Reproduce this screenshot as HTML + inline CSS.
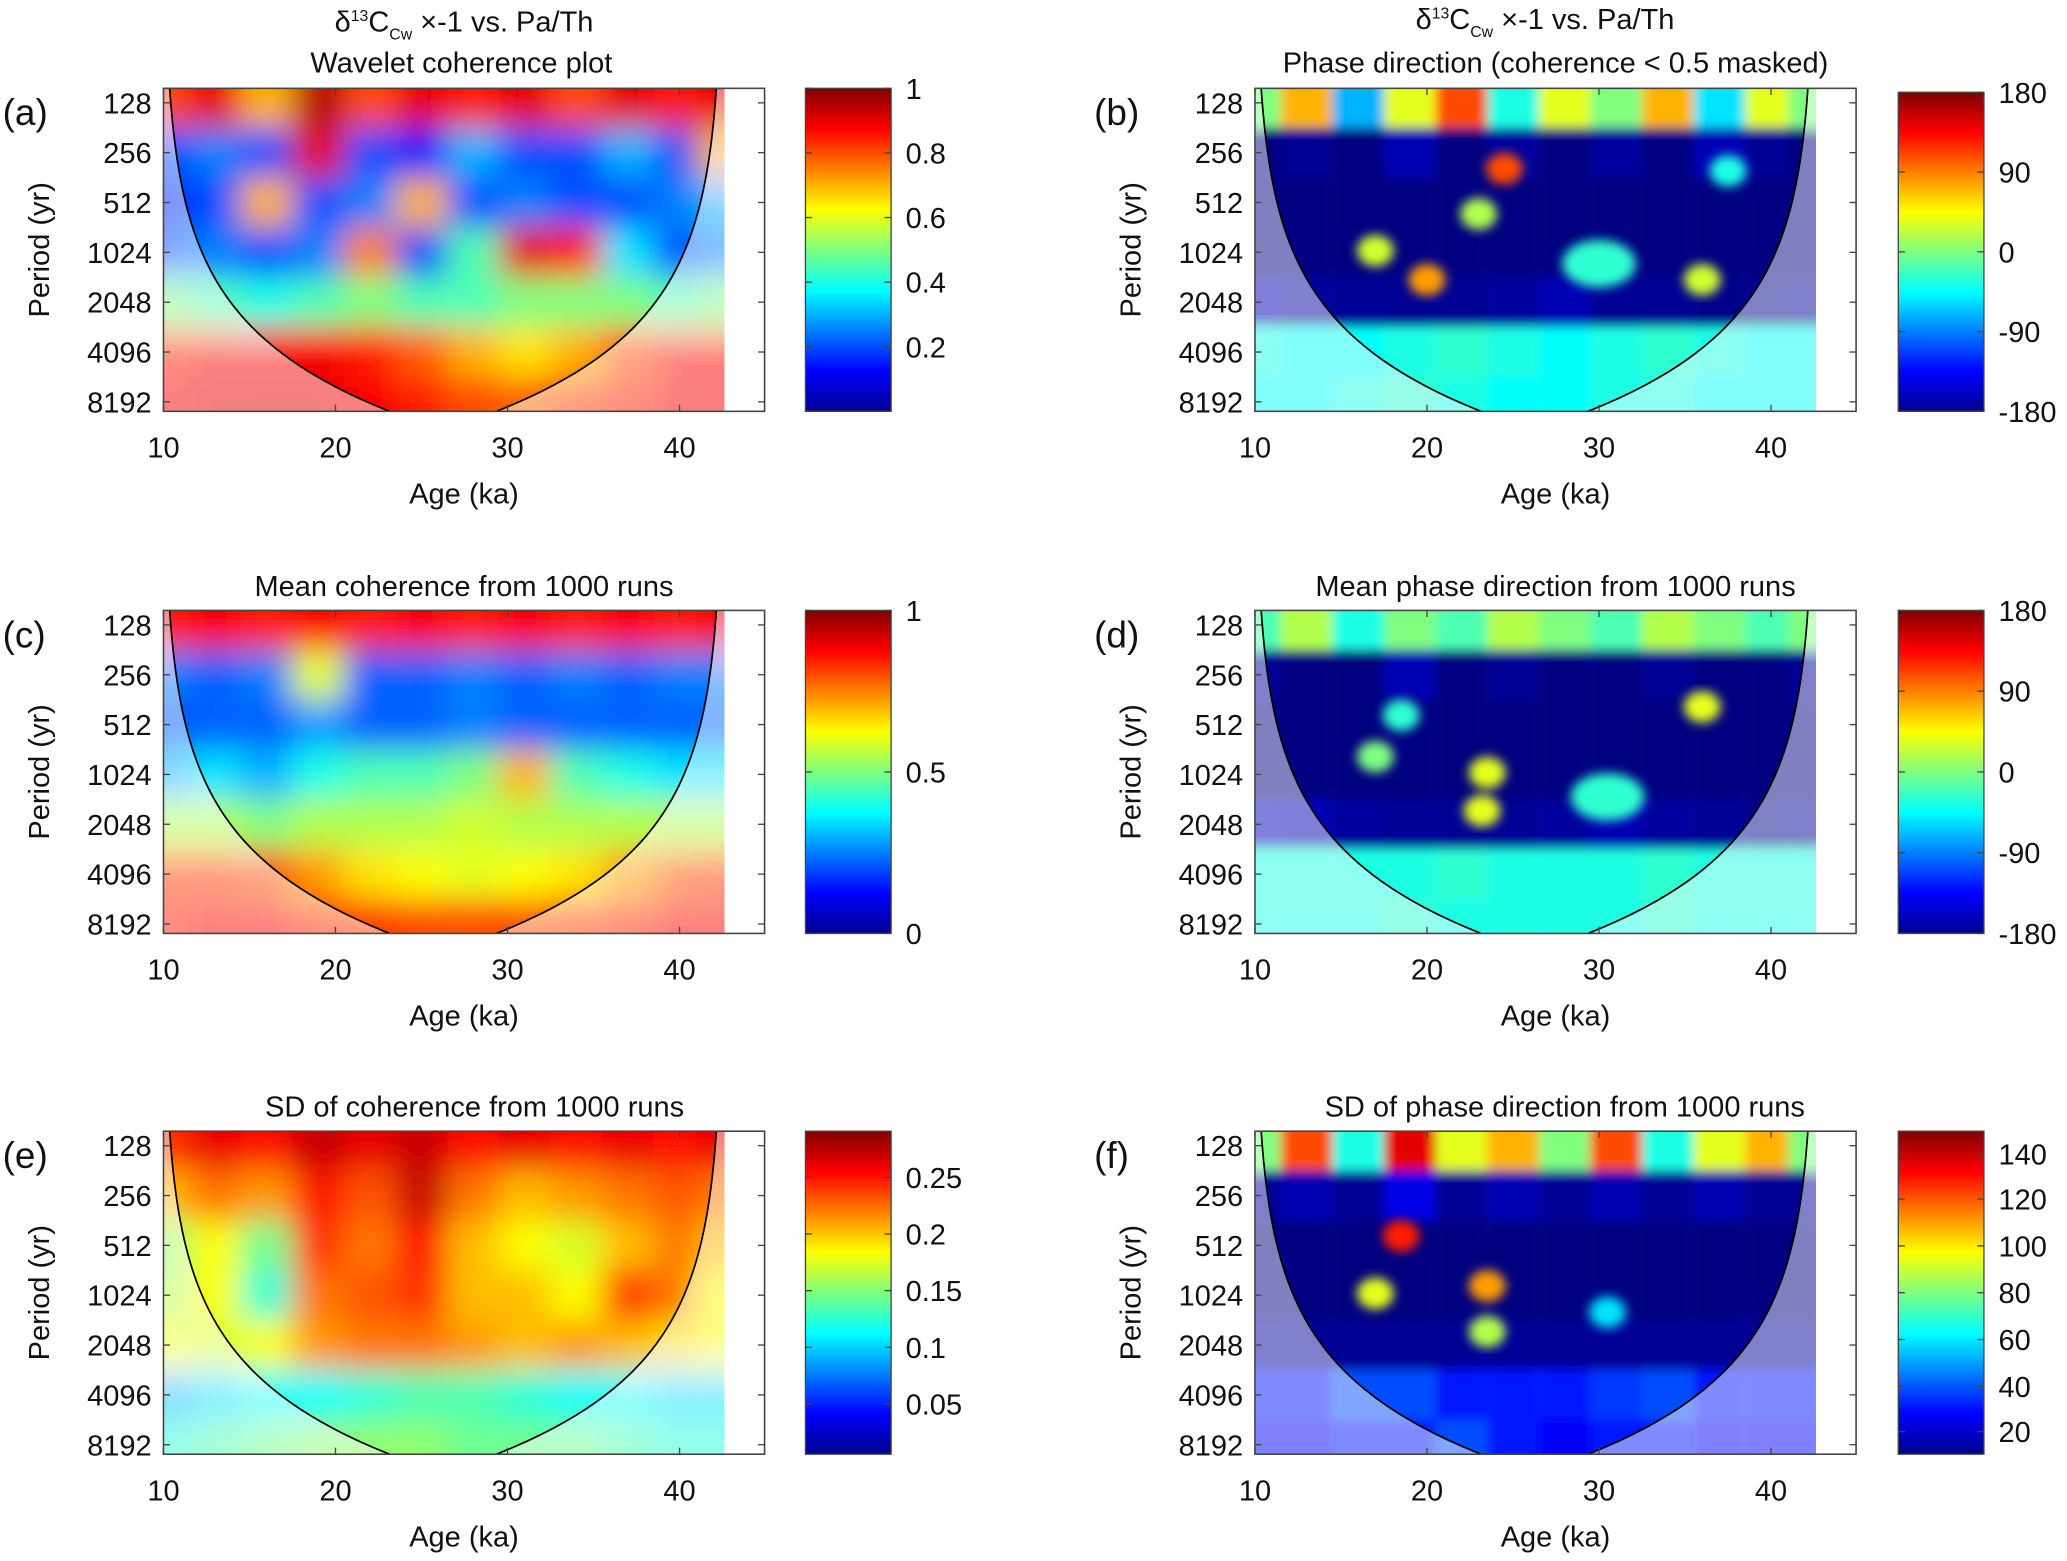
<!DOCTYPE html>
<html><head><meta charset="utf-8"><style>
html,body{margin:0;padding:0;background:#fff;}
svg{display:block;font-family:"Liberation Sans",Arial,sans-serif;}
</style></head><body>
<svg id="fig" width="2067" height="1561" viewBox="0 0 1568 1184" preserveAspectRatio="none" xmlns="http://www.w3.org/2000/svg">
<defs>
<filter id="blurBig" x="-5%" y="-5%" width="110%" height="110%"><feGaussianBlur stdDeviation="12"/></filter>
<filter id="blurSmall" x="-5%" y="-5%" width="110%" height="110%"><feGaussianBlur stdDeviation="4"/></filter>
<linearGradient id="jetGrad" x1="0" y1="1" x2="0" y2="0">
<stop offset="0" stop-color="#00008f"/><stop offset="0.125" stop-color="#0000ff"/><stop offset="0.375" stop-color="#00ffff"/><stop offset="0.625" stop-color="#ffff00"/><stop offset="0.875" stop-color="#ff0000"/><stop offset="1" stop-color="#800000"/>
</linearGradient>
</defs>
</svg>
<script>
// ---- data ----
const ages = [10.5,13,16,19,22,25,28,31,34,37,40,42.5];
const periods = [128,256,512,1024,2048,4096,8192];
const coherA = [
 [0.8,0.9,0.7,0.95,0.8,0.9,0.85,0.9,0.8,0.9,0.85,0.9],
 [0.2,0.25,0.2,0.9,0.2,0.15,0.3,0.2,0.2,0.3,0.2,0.7],
 [0.15,0.2,0.7,0.2,0.25,0.7,0.2,0.25,0.2,0.2,0.25,0.3],
 [0.2,0.25,0.2,0.25,0.75,0.2,0.45,0.9,0.85,0.35,0.2,0.25],
 [0.5,0.45,0.4,0.45,0.5,0.45,0.45,0.5,0.5,0.5,0.45,0.5],
 [0.85,0.88,0.88,0.88,0.85,0.78,0.7,0.65,0.7,0.8,0.88,0.88],
 [0.88,0.9,0.9,0.9,0.88,0.85,0.8,0.78,0.82,0.85,0.88,0.88]];
const coherC = [
 [0.85,0.88,0.85,0.88,0.85,0.88,0.85,0.88,0.85,0.88,0.85,0.88],
 [0.25,0.22,0.25,0.6,0.22,0.22,0.25,0.22,0.25,0.22,0.25,0.25],
 [0.2,0.22,0.22,0.28,0.22,0.22,0.25,0.22,0.22,0.22,0.22,0.22],
 [0.3,0.35,0.3,0.4,0.45,0.45,0.5,0.7,0.45,0.4,0.35,0.35],
 [0.55,0.55,0.5,0.55,0.55,0.55,0.58,0.55,0.55,0.55,0.55,0.55],
 [0.82,0.82,0.8,0.72,0.65,0.62,0.6,0.62,0.65,0.72,0.8,0.82],
 [0.85,0.88,0.88,0.85,0.82,0.8,0.8,0.8,0.82,0.85,0.88,0.88]];
const sdE = [
 [0.24,0.26,0.25,0.27,0.26,0.27,0.25,0.26,0.25,0.26,0.25,0.26],
 [0.2,0.22,0.21,0.25,0.23,0.27,0.22,0.2,0.21,0.22,0.23,0.22],
 [0.15,0.18,0.14,0.24,0.22,0.25,0.2,0.18,0.17,0.2,0.22,0.2],
 [0.16,0.18,0.12,0.22,0.23,0.24,0.2,0.2,0.18,0.24,0.22,0.18],
 [0.18,0.17,0.18,0.21,0.22,0.22,0.21,0.2,0.21,0.2,0.19,0.18],
 [0.09,0.1,0.11,0.11,0.12,0.13,0.13,0.12,0.11,0.11,0.1,0.1],
 [0.12,0.13,0.14,0.15,0.15,0.15,0.14,0.14,0.14,0.13,0.12,0.12]];
const phaseB = [
 [0.5,0.7,0.3,0.6,0.8,0.4,0.6,0.5,0.7,0.35,0.6,0.5],
 [0,0.02,0,0.05,0,0.03,0,0.03,0,0.05,0.02,0],
 [0,0,0,0,0,0,0,0,0,0,0,0],
 [0,0,0,0,0,0,0,0,0,0,0,0],
 [0.05,0.03,0.02,0.02,0.02,0.03,0.05,0.02,0.02,0.01,0.01,0.02],
 [0.4,0.38,0.38,0.4,0.42,0.4,0.38,0.4,0.42,0.4,0.38,0.38],
 [0.38,0.38,0.4,0.42,0.4,0.38,0.38,0.4,0.4,0.38,0.38,0.38]];
const phaseD = [
 [0.45,0.55,0.4,0.5,0.45,0.55,0.5,0.45,0.55,0.5,0.45,0.5],
 [0.02,0,0,0.05,0,0.02,0,0,0.02,0,0,0.02],
 [0,0,0,0,0,0,0,0,0,0,0,0],
 [0,0,0,0,0,0,0,0,0,0,0,0],
 [0.06,0.05,0.03,0.02,0.02,0.02,0.03,0.05,0.03,0.02,0.01,0.02],
 [0.4,0.4,0.4,0.4,0.42,0.4,0.4,0.4,0.42,0.4,0.4,0.4],
 [0.4,0.4,0.4,0.42,0.4,0.4,0.4,0.4,0.42,0.4,0.4,0.4]];
const phaseF = [
 [0.5,0.8,0.4,0.9,0.6,0.7,0.5,0.8,0.4,0.6,0.7,0.5],
 [0.02,0.05,0.02,0.1,0.02,0.05,0.02,0.05,0.02,0.05,0.02,0.02],
 [0,0,0,0,0,0,0,0,0,0,0,0],
 [0,0,0,0,0,0,0,0,0,0,0,0],
 [0.03,0.02,0.02,0.02,0.02,0.02,0.02,0.02,0.02,0.02,0.02,0.02],
 [0.15,0.15,0.2,0.2,0.15,0.15,0.15,0.18,0.2,0.15,0.15,0.15],
 [0.12,0.12,0.15,0.15,0.2,0.15,0.12,0.15,0.15,0.12,0.12,0.12]];
const blobAges = {b:[20,23,30,36,17,24.5,37.5],d:[18.5,23.5,30.5,23.2,17,36],f:[18.5,30.5,23.5,23.5,17]};
const blobPeriods = {b:[1500,600,1200,1500,1000,320,330],d:[450,1000,1400,1700,800,400],f:[450,1300,900,1700,1000]};
const blobVals = {b:[0.72,0.55,0.42,0.58,0.58,0.8,0.4],d:[0.42,0.6,0.42,0.6,0.5,0.6],f:[0.85,0.35,0.72,0.55,0.6]};
const xTicks = [10,20,30,40];
const yTicks = [128,256,512,1024,2048,4096,8192];

// ---- layout ----
const NS = "http://www.w3.org/2000/svg";
const svg = document.getElementById('fig');
const colX = [124,952], rowY = [67,463,858], AW = 456, AH = 245;
function xScale(left, age){ return left + (age-10)*13.05; }
function yScale(top, p){ return top + 11 + Math.log2(p/128)*37.8; }
function jet(v){
  v=Math.max(0,Math.min(1,v));
  function c(x){return Math.round(255*Math.max(0,Math.min(1,x)));}
  const r=c(Math.min(4*v-1.5,-4*v+4.5)), g=c(Math.min(4*v-0.5,-4*v+3.5)), b=c(Math.min(4*v+0.5,-4*v+2.5));
  return `rgb(${r},${g},${b})`;
}
function el(tag, attrs, parent){ const e=document.createElementNS(NS,tag); for(const k in attrs) e.setAttribute(k,attrs[k]); (parent||svg).appendChild(e); return e; }
function text(x,y,s,size,anchor,parent){ const t=el('text',{x:x,y:y,'font-size':size,'text-anchor':anchor||'middle',fill:'#111'},parent); t.textContent=s; return t; }
function coneD(left, top){
  const pts=[]; const N=50; const yBot=top+AH;
  for(let i=0;i<=N;i++){ const y=top+(yBot-top)*i/N; const p=128*Math.pow(2,(y-top-11)/37.8); const d=3.9*Math.pow(p/2048,0.8); pts.push([y,d]); }
  return pts;
}
function panel(id, ci, ri, mat, vmax, blurId, blobKey, overlayOpacity, overlayColor){
  const left=colX[ci], top=rowY[ri];
  const g=el('g',{});
  
  
  const clipId='clip'+id;
  const cp=el('clipPath',{id:clipId},g); el('rect',{x:left,y:top,width:xScale(left,42.6)-left,height:AH},cp);
  const hg=el('g',{'clip-path':`url(#${clipId})`},g);
  const hm=el('g',{filter:`url(#${blurId})`},hg);
  
  
  for(let r=0;r<periods.length;r++){
    for(let c=0;c<ages.length;c++){
      let x0=xScale(left,ages[c]-1.5), x1=xScale(left,ages[c]+1.5);
      if(c===0) x0-=40; if(c===ages.length-1) x1+=40;
      let y0=yScale(top,periods[r])-19, y1=yScale(top,periods[r])+19;
      if(r===0) y0-=40; if(r===periods.length-1) y1+=40;
      const cell=el('rect',{x:x0,y:y0,width:x1-x0,height:y1-y0,fill:jet(mat[r][c]/vmax)},hm);
      
      
    }
  }
  if(blobKey){
    const bg=el('g',{filter:'url(#blurSmall)'},hg);
    for(let i=0;i<blobAges[blobKey].length;i++){
      const b=el('ellipse',{cx:xScale(left,blobAges[blobKey][i]),cy:yScale(top,blobPeriods[blobKey][i]),rx:i===2&&blobKey!=='f'?28:14,ry:i===2&&blobKey!=='f'?18:12,fill:jet(blobVals[blobKey][i])},bg);
      
      
    }
  }
  const pts=coneD(left,top); const xR=xScale(left,42.6); const mid=xScale(left,26.25);
  let dL=`M${left},${top} `; pts.forEach(([y,d])=>{ dL+=`L${Math.min(xScale(left,10+d),mid)},${y} `; });
  let dR=''; for(let i=pts.length-1;i>=0;i--){ const [y,d]=pts[i]; dR+=`L${Math.max(xScale(left,42.5-d),mid)},${y} `; }
  const ov=el('path',{d:dL+dR+`L${xR},${top} L${xR},${top+AH} L${left},${top+AH} Z`,fill:overlayColor,'fill-opacity':overlayOpacity,'fill-rule':'evenodd'},hg);
  
  
  let lp=''; pts.forEach(([y,d],i)=>{ lp+=(i?'L':'M')+`${xScale(left,10+d)},${y} `; });
  let rp=''; pts.forEach(([y,d],i)=>{ rp+=(i?'L':'M')+`${xScale(left,42.5-d)},${y} `; });
  const cl=el('path',{d:lp+rp,fill:'none',stroke:'#000','stroke-width':1.3},hg);
  
  
  const box=el('rect',{x:left,y:top,width:AW,height:AH,fill:'none',stroke:'#444','stroke-width':1.2},g);
  
  
  xTicks.forEach(t=>{ const x=xScale(left,t); el('line',{x1:x,x2:x,y1:top+AH,y2:top+AH-5,stroke:'#444'},g); el('line',{x1:x,x2:x,y1:top,y2:top+5,stroke:'#444'},g);
    const tl=text(x,top+AH+35,String(t),22,'middle',g);   });
  yTicks.forEach(p=>{ const y=yScale(top,p); el('line',{x1:left,x2:left+5,y1:y,y2:y,stroke:'#444'},g); el('line',{x1:left+AW,x2:left+AW-5,y1:y,y2:y,stroke:'#444'},g);
    const tl=text(left-9,y+8,String(p),22,'end',g);   });
  const xl=text(left+228,top+AH+70,'Age (ka)',22,'middle',g);  
  const yl=text(0,0,'Period (yr)',22,'middle',g); yl.setAttribute('transform',`translate(${left-87},${top+AH/2}) rotate(-90)`);
   
  const pl=text(left-122,top+28,`(${id})`,28,'start',g);  
  return g;
}
function colorbar(ci, ri, labels, positions){
  const x=[611,1440][ci], top=rowY[ri]+(ci===1&&ri===0?3:0), h=AH-(ci===1&&ri===0?3:0);
  const cb=el('rect',{x:x,y:top,width:65,height:h,fill:'url(#jetGrad)',stroke:'#444','stroke-width':1});
  
  
  labels.forEach((l,i)=>{ const y=top+h*(1-positions[i]); el('line',{x1:x+65,x2:x+60,y1:y,y2:y,stroke:'#444'}); el('line',{x1:x,x2:x+5,y1:y,y2:y,stroke:'#444'});
    const t=text(x+76,y+8,l,22,'start');   });
}
function title(x,y,s,name){ const t=text(x,y,s,22,'middle');   return t; }

panel('a',0,0,coherA,1,'blurBig',null,0.5,'#ffffff');
panel('b',1,0,phaseB,1,'blurSmall','b',0.5,'#ffffff');
panel('c',0,1,coherC,1,'blurBig',null,0.5,'#ffffff');
panel('d',1,1,phaseD,1,'blurSmall','d',0.5,'#ffffff');
panel('e',0,2,sdE,0.29,'blurBig',null,0.5,'#ffffff');
panel('f',1,2,phaseF,1,'blurSmall','f',0.5,'#ffffff');

colorbar(0,0,['1','0.8','0.6','0.4','0.2'],[1,0.8,0.6,0.4,0.2]);
colorbar(1,0,['180','90','0','-90','-180'],[1,0.75,0.5,0.25,0]);
colorbar(0,1,['1','0.5','0'],[1,0.5,0]);
colorbar(1,1,['180','90','0','-90','-180'],[1,0.75,0.5,0.25,0]);
colorbar(0,2,['0.25','0.2','0.15','0.1','0.05'],[0.25/0.285,0.2/0.285,0.15/0.285,0.1/0.285,0.05/0.285].map(v=>v-0.02));
colorbar(1,2,['140','120','100','80','60','40','20'],[0.93,0.79,0.645,0.5,0.355,0.21,0.07]);

const tA=text(352,24,'',22,'middle');  
tA.innerHTML='δ<tspan font-size="12" dy="-8">13</tspan><tspan dy="8">C</tspan><tspan font-size="12" dy="6">Cw</tspan><tspan dy="-6"> ×-1  vs. Pa/Th</tspan>';
title(350,55,'Wavelet coherence plot','title-a-line2');
const tB=text(1172,22,'',22,'middle');  
tB.innerHTML='δ<tspan font-size="12" dy="-8">13</tspan><tspan dy="8">C</tspan><tspan font-size="12" dy="6">Cw</tspan><tspan dy="-6"> ×-1  vs. Pa/Th</tspan>';
title(1180,55,'Phase direction (coherence < 0.5 masked)','title-b-line2');
title(352,452,'Mean coherence from 1000 runs','title-c');
title(1180,452,'Mean phase direction from 1000 runs','title-d');
title(360,847,'SD of coherence from 1000 runs','title-e');
title(1187,847,'SD of phase direction from 1000 runs','title-f');
</script>
</body></html>
